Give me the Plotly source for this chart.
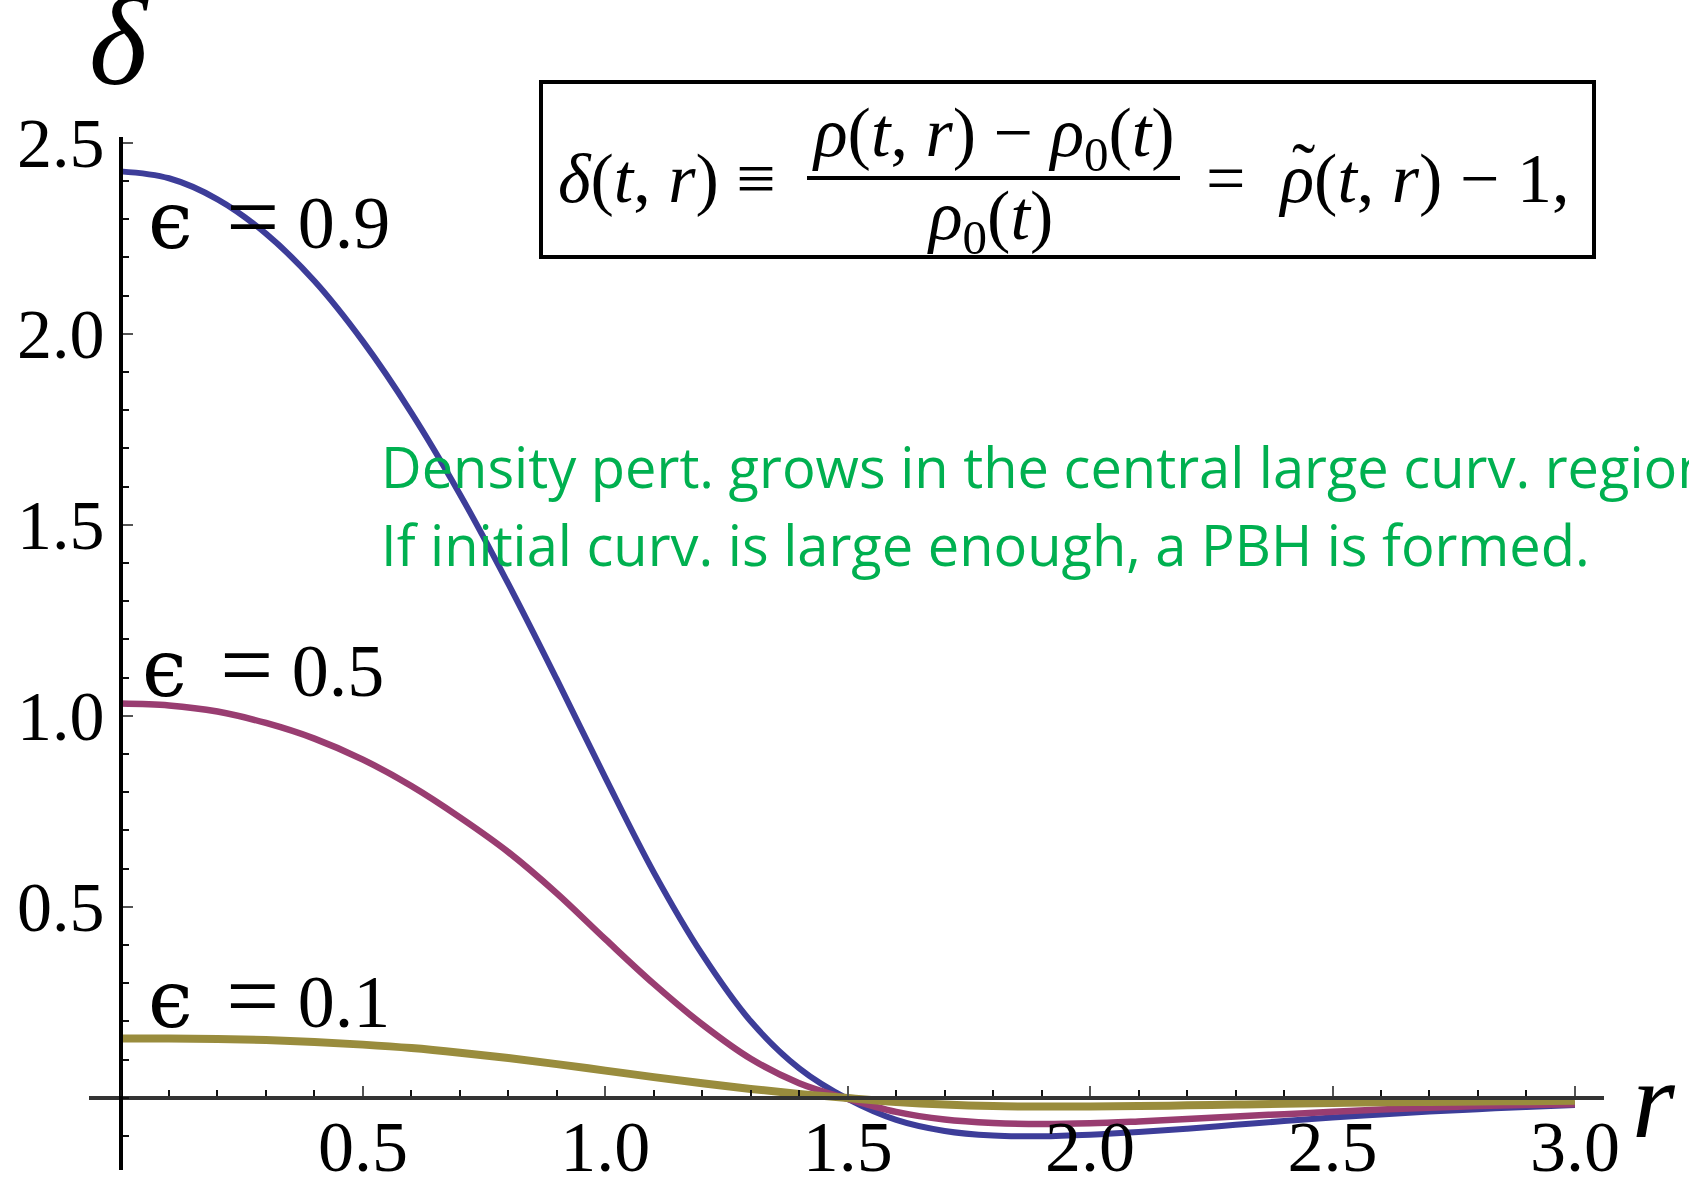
import plotly.graph_objects as go

# Radial coordinate and density contrast profiles for three curvature amplitudes
r = [0.0, 0.1, 0.2, 0.3, 0.4, 0.5, 0.6, 0.7, 0.8, 0.9, 1.0,
     1.1, 1.2, 1.3, 1.4, 1.5, 1.6, 1.7, 1.8, 1.9, 2.0,
     2.1, 2.2, 2.3, 2.4, 2.5, 2.6, 2.7, 2.8, 2.9, 3.0]

delta_eps09 = [2.425, 2.407, 2.352, 2.262, 2.138, 1.980, 1.793, 1.580, 1.345, 1.095, 0.838,
               0.590, 0.375, 0.200, 0.077, -0.003, -0.058, -0.087, -0.099, -0.101, -0.097,
               -0.090, -0.081, -0.071, -0.061, -0.052, -0.044, -0.036, -0.030, -0.024, -0.019]

delta_eps05 = [1.032, 1.027, 1.011, 0.981, 0.940, 0.885, 0.816, 0.734, 0.643, 0.535, 0.415,
               0.298, 0.192, 0.102, 0.038, -0.003, -0.037, -0.057, -0.066, -0.069, -0.067,
               -0.062, -0.056, -0.049, -0.043, -0.037, -0.031, -0.026, -0.022, -0.019, -0.017]

delta_eps01 = [0.155, 0.155, 0.154, 0.151, 0.146, 0.139, 0.130, 0.118, 0.104, 0.088, 0.071,
               0.054, 0.038, 0.023, 0.010, -0.001, -0.011, -0.018, -0.022, -0.023, -0.023,
               -0.022, -0.020, -0.018, -0.016, -0.014, -0.012, -0.011, -0.010, -0.009, -0.008]

eps_values = ["0.9", "0.5", "0.1"]
x_tick_vals = [0.5, 1.0, 1.5, 2.0, 2.5, 3.0]
x_tick_text = ["0.5", "1.0", "1.5", "2.0", "2.5", "3.0"]
y_tick_vals = [0.5, 1.0, 1.5, 2.0, 2.5]
y_tick_text = ["0.5", "1.0", "1.5", "2.0", "2.5"]

W, H = 1689, 1179
X_RANGE = [-0.065, 3.06]
Y_RANGE = [-0.19, 2.515]


def px(x):
    return x / W


def py(y):
    return 1 - y / H


colors = ["rgb(61,61,153)", "rgb(153,61,113)", "rgb(153,140,61)"]
widths = [6, 6.5, 8]

fig = go.Figure()
for vals, col, w, eps in zip([delta_eps09, delta_eps05, delta_eps01],
                             colors, widths, eps_values):
    fig.add_trace(go.Scatter(x=r, y=vals, mode="lines", name="ϵ = " + eps,
                             line=dict(color=col, width=w, shape="spline", smoothing=1.0)))

serif = "Liberation Serif, DejaVu Serif, serif"

fig.update_layout(
    width=W, height=H,
    margin=dict(l=0, r=0, t=0, b=0, pad=0, autoexpand=False),
    paper_bgcolor="white", plot_bgcolor="white",
    showlegend=False,
    xaxis=dict(
        domain=[px(89), px(1604)], range=X_RANGE,
        anchor="free", position=py(1097.7),
        showgrid=False, zeroline=False,
        showline=True, linecolor="#333333", linewidth=4,
        ticks="inside", ticklen=10, tickwidth=2, tickcolor="#555555",
        tickmode="array", tickvals=x_tick_vals, ticktext=x_tick_text,
        ticklabelstandoff=-15,
        tickfont=dict(family=serif, size=72, color="black"),
        minor=dict(tickmode="linear", tick0=0, dtick=0.1, ticks="inside",
                   ticklen=6, tickwidth=2, tickcolor="#111111"),
    ),
    yaxis=dict(
        domain=[py(1170.3), py(137)], range=Y_RANGE,
        anchor="free", position=px(120.6),
        showgrid=False, zeroline=False,
        showline=True, linecolor="black", linewidth=4,
        ticks="inside", ticklen=10, tickwidth=2, tickcolor="#555555",
        tickmode="array", tickvals=y_tick_vals, ticktext=y_tick_text,
        ticklabelstandoff=0,
        tickfont=dict(family=serif, size=70, color="black"),
        minor=dict(tickmode="linear", tick0=0, dtick=0.1, ticks="inside",
                   ticklen=6, tickwidth=2, tickcolor="#111111"),
    ),
)

# Axis titles
fig.add_annotation(x=px(119), y=py(-29), xref="paper", yref="paper",
                   xanchor="center", yanchor="top",
                   text="<i>δ</i>", showarrow=False,
                   font=dict(family=serif, size=125, color="black"))
fig.add_annotation(x=px(1654), y=py(1163), xref="paper", yref="paper",
                   xanchor="center", yanchor="bottom",
                   text="<i>r</i>", showarrow=False,
                   font=dict(family=serif, size=110, color="black"))

# Curve labels
label_pos = [(146, 216), (140, 664), (146, 995)]
for (lx, ly), eps in zip(label_pos, eps_values):
    txt = ('<span style="font-family:DejaVu Serif;font-size:80px">ϵ</span>'
           '&nbsp;\u2009<span style="font-size:94px">=</span>&nbsp;' + eps)
    fig.add_annotation(x=px(lx), y=py(ly), xref="paper", yref="paper",
                       xanchor="left", yanchor="middle",
                       text=txt, showarrow=False,
                       font=dict(family=serif, size=74, color="black"))

# Green commentary
green = "#00B050"
sans = "Open Sans, Lato, sans-serif"
fig.add_annotation(x=px(379), y=py(466), xref="paper", yref="paper",
                   xanchor="left", yanchor="middle", showarrow=False,
                   text="Density pert. grows in the central large curv. region",
                   font=dict(family=sans, size=56, color=green))
fig.add_annotation(x=px(379), y=py(544), xref="paper", yref="paper",
                   xanchor="left", yanchor="middle", showarrow=False,
                   text="If initial curv. is large enough, a PBH is formed.",
                   font=dict(family=sans, size=56, color=green))

# Definition box
fig.add_shape(type="rect", xref="paper", yref="paper",
              x0=px(541), x1=px(1594), y0=py(82), y1=py(257),
              line=dict(color="black", width=4), fillcolor="rgba(0,0,0,0)")
eq_font = dict(family=serif, size=70, color="black")
fig.add_annotation(x=px(556), y=py(178), xref="paper", yref="paper",
                   xanchor="left", yanchor="middle", showarrow=False,
                   text="<i>δ</i>(<i>t</i>, <i>r</i>) ≡", font=eq_font)
fig.add_annotation(x=px(993), y=py(138), xref="paper", yref="paper",
                   xanchor="center", yanchor="middle", showarrow=False,
                   text="<i>ρ</i>(<i>t</i>, <i>r</i>) − <i>ρ</i><sub>0</sub>(<i>t</i>)", font=eq_font)
fig.add_shape(type="line", xref="paper", yref="paper",
              x0=px(807), x1=px(1180), y0=py(178), y1=py(178),
              line=dict(color="black", width=4))
fig.add_annotation(x=px(990), y=py(221), xref="paper", yref="paper",
                   xanchor="center", yanchor="middle", showarrow=False,
                   text="<i>ρ</i><sub>0</sub>(<i>t</i>)", font=eq_font)
fig.add_annotation(x=px(1204), y=py(178), xref="paper", yref="paper",
                   xanchor="left", yanchor="middle", showarrow=False,
                   text="=&nbsp;&nbsp;<i>ρ</i>(<i>t</i>, <i>r</i>) − 1,", font=eq_font)
# tilde accent over the rho of the right-hand side
fig.add_annotation(x=px(1303), y=py(167), xref="paper", yref="paper",
                   xanchor="center", yanchor="middle", showarrow=False,
                   text="˜", font=dict(family=serif, size=70, color="black"))

fig.write_html("out.html")
